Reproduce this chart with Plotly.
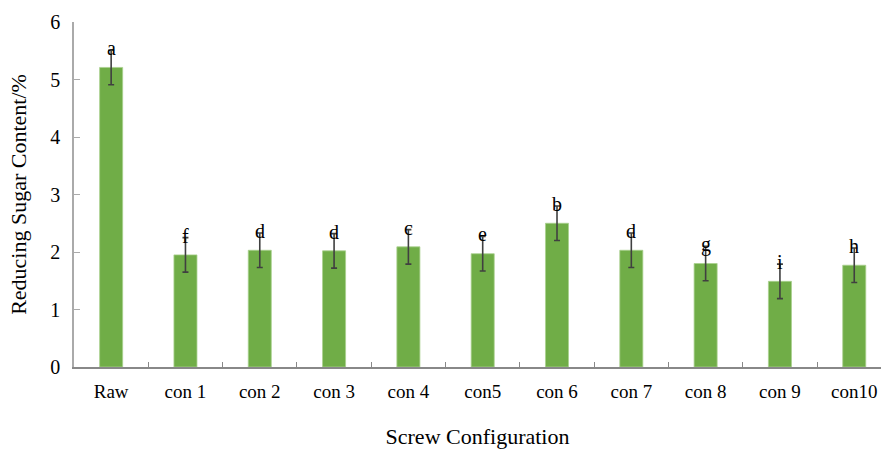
import plotly.graph_objects as go

categories = ["Raw", "con 1", "con 2", "con 3", "con 4", "con5", "con 6", "con 7", "con 8", "con 9", "con10"]
values = [5.21, 1.95, 2.03, 2.02, 2.09, 1.97, 2.50, 2.03, 1.80, 1.49, 1.77]
errors = [0.30, 0.30, 0.30, 0.30, 0.30, 0.30, 0.30, 0.30, 0.30, 0.30, 0.30]
letters = ["a", "f", "d", "d", "c", "e", "b", "d", "g", "i", "h"]
y_ticks = [0, 1, 2, 3, 4, 5, 6]

FONT = "Liberation Serif, Times New Roman, serif"

fig = go.Figure()
fig.add_trace(go.Bar(
    x=categories, y=values, width=0.31,
    marker=dict(color="#70AD47", line=dict(color="#A9D18E", width=0.8)),
    error_y=dict(type="data", array=errors, visible=True, color="#404040", thickness=1.6, width=3),
))

for c, v, e, t in zip(categories, values, errors, letters):
    fig.add_annotation(x=c, y=v + e, text=t, showarrow=False, xref="x", yref="y",
                       yanchor="middle", yshift=2,
                       font=dict(family=FONT, size=20, color="black"))

fig.update_layout(
    width=881, height=449,
    margin=dict(l=74, r=0, t=22, b=82),
    plot_bgcolor="white", paper_bgcolor="white",
    showlegend=False,
    font=dict(family=FONT, size=19, color="black"),
    xaxis=dict(
        type="category", range=[-0.5, 10.36], automargin=False,
        showline=True, linecolor="#888888", linewidth=1.5,
        ticks="inside", ticklen=5, tickcolor="#888888", tickson="boundaries",
        tickfont=dict(family=FONT, size=19, color="black"),
        ticklabelstandoff=6, ticklabeloverflow="allow",
        title=dict(text="Screw Configuration", font=dict(family=FONT, size=22, color="black"), standoff=36),
        showgrid=False, zeroline=False,
    ),
    yaxis=dict(
        range=[0, 6], tickvals=y_ticks, automargin=False,
        showline=True, linecolor="#aaaaaa", linewidth=1.5,
        ticks="inside", ticklen=6, tickcolor="#aaaaaa",
        tickfont=dict(family=FONT, size=20, color="black"),
        ticklabelstandoff=8,
        title=dict(text="Reducing Sugar Content/%", font=dict(family=FONT, size=22, color="black"), standoff=18),
        showgrid=False, zeroline=False,
    ),
)

page_js = ("document.body.style.margin='0';"
           "document.body.style.overflow='hidden';"
           "document.documentElement.style.overflow='hidden';")
fig.write_html("out.html", post_script=page_js, config={"displayModeBar": False})
